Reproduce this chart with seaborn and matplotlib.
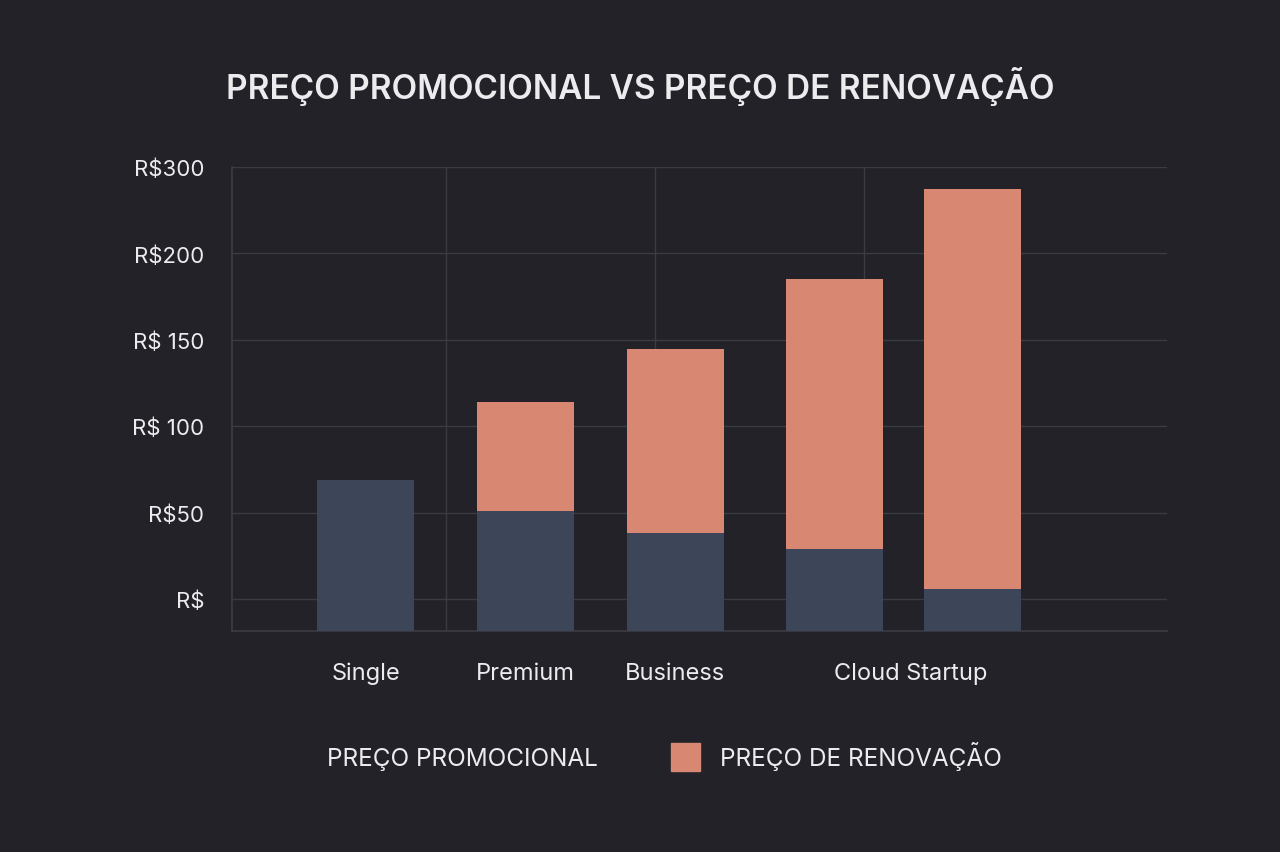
import matplotlib
matplotlib.use("Agg")
import matplotlib.pyplot as plt
import seaborn as sns
import pandas as pd
from matplotlib.patches import Patch

# data
plans = ["Single", "Premium", "Business", "Cloud", "Startup"]
promo = [69, 51, 38, 29, 6]
renewal = [0, 114, 144.5, 185, 237]
tick_vals = [0, 50, 100, 150, 200, 250]
tick_labels = ["R$", "R$50", "R$ 100", "R$ 150", "R$200", "R$300"]
xlabels = ["Single", "Premium", "Business", "Cloud Startup"]

# layout (pixel-like x positions)
bar_pos = [365, 525, 675, 834, 972]
label_pos = [366, 525, 675, 911]
BASE = -18.5  # bars reach down to the axis line

BG = "#232228"
DARK = "#3d4658"
ORANGE = "#d88872"
TXT = "#ececef"
GRID = "#3b3b42"

sns.set_theme(style="dark")
plt.rcParams["font.family"] = ["Inter", "DejaVu Sans"]

df = pd.DataFrame({"plan": plans, "x": bar_pos, "promo": promo, "renewal": renewal})
df["promo_h"] = df["promo"] - BASE
df["renewal_h"] = (df["renewal"] - BASE).where(df["renewal"] > 0, 0)

fig = plt.figure(figsize=(12.8, 8.53), dpi=100, facecolor=BG)
ax = fig.add_axes([232 / 1280, 1 - 632 / 853, 935 / 1280, 464 / 853])
ax.set_facecolor(BG)

sns.barplot(data=df, x="x", y="renewal_h", native_scale=True, width=97 / 138,
            color=ORANGE, saturation=1, ax=ax, zorder=3, bottom=BASE,
            linewidth=0, edgecolor="none")
sns.barplot(data=df, x="x", y="promo_h", native_scale=True, width=97 / 138,
            color=DARK, saturation=1, ax=ax, zorder=4, bottom=BASE,
            linewidth=0, edgecolor="none")

ax.set_xlim(232, 1167)
ax.set_ylim(BASE, 250)
ax.set_yticks(tick_vals)
ax.set_yticklabels(tick_labels, color=TXT, fontsize=16)
ax.set_xticks(label_pos)
ax.set_xticklabels(xlabels, color=TXT, fontsize=17)
ax.set_xticks([446, 655, 864], minor=True)
ax.tick_params(axis="both", length=0, pad=20)
ax.tick_params(axis="x", pad=22)
ax.set_xlabel("")
ax.set_ylabel("")
ax.grid(True, axis="y", color=GRID, linewidth=1, zorder=0)
ax.grid(True, axis="x", which="minor", color=GRID, linewidth=1, zorder=0)
ax.grid(False, axis="x", which="major")
for s in ["top", "right"]:
    ax.spines[s].set_visible(False)
for s in ["left", "bottom"]:
    ax.spines[s].set_color(GRID)

fig.text(0.5, 1 - 86 / 853, "PREÇO PROMOCIONAL VS PREÇO DE RENOVAÇÃO",
         ha="center", va="center", color=TXT, fontsize=24, fontweight="semibold")

handles = [Patch(facecolor=BG, edgecolor=BG, label="PREÇO PROMOCIONAL"),
           Patch(facecolor=ORANGE, edgecolor=ORANGE, label="PREÇO DE RENOVAÇÃO")]
leg = fig.legend(handles=handles, loc="center", bbox_to_anchor=(0.5, 1 - 757 / 853),
                 ncol=2, frameon=False, fontsize=17.5, columnspacing=3.0,
                 handlelength=1.2, handleheight=1.4)
for t in leg.get_texts():
    t.set_color(TXT)

fig.savefig("out.png", dpi=100, facecolor=BG)
